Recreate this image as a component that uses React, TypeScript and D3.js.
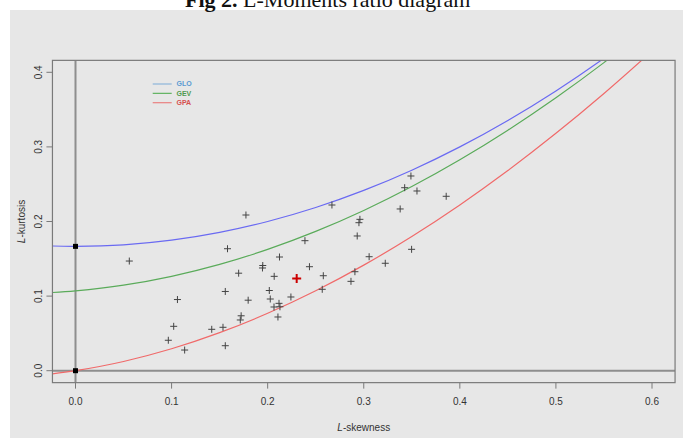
import React from "react";
import * as d3 from "d3";

const W = 683;
const H = 438;

// Observed sample L-moment ratios (tau3 = L-skewness, tau4 = L-kurtosis)
const sampleSkew = [0.056, 0.0966, 0.1022, 0.1061, 0.1136, 0.1418, 0.1535, 0.1559, 0.1559, 0.1582, 0.1698, 0.1715, 0.1724, 0.1774, 0.1797, 0.1949, 0.1946, 0.2017, 0.2027, 0.2068, 0.2066, 0.2118, 0.2128, 0.2107, 0.2123, 0.2242, 0.2388, 0.2435, 0.2568, 0.2579, 0.2669, 0.2867, 0.2908, 0.2932, 0.295, 0.296, 0.3056, 0.3224, 0.3379, 0.3426, 0.3491, 0.3498, 0.3554, 0.3858];
const sampleKurt = [0.147, 0.0408, 0.0595, 0.0954, 0.0277, 0.0555, 0.0582, 0.0335, 0.1062, 0.1635, 0.1307, 0.068, 0.0736, 0.2087, 0.0945, 0.141, 0.1377, 0.1075, 0.0961, 0.1265, 0.0854, 0.0903, 0.0857, 0.072, 0.1524, 0.0988, 0.1743, 0.1394, 0.1091, 0.1273, 0.2221, 0.1198, 0.1327, 0.1806, 0.1984, 0.2029, 0.1528, 0.144, 0.2168, 0.2453, 0.261, 0.1627, 0.2409, 0.2338];
const meanSkew = [0.2302];
const meanKurt = [0.1236];

// Theoretical curves
const curveSkew = [-0.024, 0, 0.05, 0.1, 0.15, 0.2, 0.25, 0.3, 0.35, 0.4, 0.45, 0.5, 0.55, 0.6, 0.624];
const gloKurt = [0.16715, 0.16667, 0.16875, 0.175, 0.18542, 0.2, 0.21875, 0.24167, 0.26875, 0.3, 0.33542, 0.375, 0.41875, 0.46667, 0.49114];
const gevKurt = [0.10484, 0.10701, 0.11467, 0.12652, 0.14251, 0.16259, 0.18671, 0.2148, 0.24683, 0.28271, 0.3224, 0.36585, 0.41299, 0.46378, 0.48919];
const gpaKurt = [-0.00424, 0, 0.01238, 0.02941, 0.05097, 0.07692, 0.10714, 0.14151, 0.17991, 0.22222, 0.26835, 0.31818, 0.37162, 0.42857, 0.45713];

const legendNames = ["GLO", "GEV", "GPA"];
const curveColors = ["#6a6af2", "#5aab5a", "#f06a6a"];
const legendLineColors = ["#8db6da", "#5fb35f", "#e98080"];
const legendTextColors = ["#5a9ad2", "#4f9a4f", "#d65050"];

const xTicks = [0, 0.1, 0.2, 0.3, 0.4, 0.5, 0.6];
const yTicks = [0, 0.1, 0.2, 0.3, 0.4];

export default function App() {
  const x = d3.scaleLinear().domain([0, 0.6]).range([75.5, 652]);
  const y = d3.scaleLinear().domain([0, 0.4]).range([370.7, 72.3]);
  const x0 = x(-0.024), x1 = x(0.624);
  const y0 = y(-0.016), y1 = y(0.416);

  const line = d3
    .line<[number, number]>()
    .x((d) => x(d[0]))
    .y((d) => y(d[1]))
    .curve(d3.curveCatmullRom);

  const curves = [gloKurt, gevKurt, gpaKurt].map((k) =>
    line(curveSkew.map((s, i) => [s, k[i]] as [number, number]))
  );

  const font = "'Liberation Sans', Arial, sans-serif";
  const plus = (cx: number, cy: number, r: number) =>
    `M${cx - r},${cy}H${cx + r}M${cx},${cy - r}V${cy + r}`;

  return (
    <svg width={W} height={H} style={{ position: "absolute", left: 0, top: 0 }}>
      <defs>
        <clipPath id="box">
          <rect x={x0} y={y1} width={x1 - x0} height={y0 - y1} />
        </clipPath>
      </defs>
      <rect x={0} y={0} width={W} height={H} fill="#ffffff" />
      <rect x={10} y={10} width={W - 10} height={H - 10} fill="#e7e7e7" />

      <text x={185} y={7} fontFamily="'Liberation Serif', 'Times New Roman', serif" fontSize={22} fill="#111">
        <tspan fontWeight="bold">Fig 2.</tspan>
        <tspan> L-Moments ratio diagram</tspan>
      </text>

      {/* reference lines */}
      <g clipPath="url(#box)">
        <line x1={x(0)} x2={x(0)} y1={y1} y2={y0} stroke="#8e8e8e" strokeWidth={2} />
        <line x1={x0} x2={x1} y1={y(0)} y2={y(0)} stroke="#8e8e8e" strokeWidth={2} />
        {curves.map((p, i) => (
          <path key={i} d={p || ""} fill="none" stroke={curveColors[i]} strokeWidth={1.2} />
        ))}
        {sampleSkew.map((s, i) => (
          <path key={i} d={plus(x(s), y(sampleKurt[i]), 3.5)} stroke="#444" strokeWidth={1} />
        ))}
        {meanSkew.map((s, i) => (
          <path key={i} d={plus(x(s), y(meanKurt[i]), 4.5)} stroke="#cc0000" strokeWidth={2} />
        ))}
        <rect x={x(0) - 2.5} y={y(1 / 6) - 2.5} width={5} height={5} fill="#000" />
        <rect x={x(0) - 2.5} y={y(0) - 2.5} width={5} height={5} fill="#000" />
      </g>

      {/* box */}
      <rect x={x0} y={y1} width={x1 - x0} height={y0 - y1} fill="none" stroke="#7a7a7a" strokeWidth={1.2} />

      {/* x axis */}
      {xTicks.map((t) => (
        <g key={t}>
          <line x1={x(t)} x2={x(t)} y1={y0} y2={y0 + 6} stroke="#7a7a7a" />
          <text x={x(t)} y={405} textAnchor="middle" fontFamily={font} fontSize={10} fill="#333">
            {t.toFixed(1)}
          </text>
        </g>
      ))}
      <text x={(x0 + x1) / 2} y={431} textAnchor="middle" fontFamily={font} fontSize={10} fill="#333">
        <tspan fontStyle="italic">L</tspan>-skewness
      </text>

      {/* y axis */}
      {yTicks.map((t) => (
        <g key={t}>
          <line x1={x0} x2={x0 - 6} y1={y(t)} y2={y(t)} stroke="#7a7a7a" />
          <text
            transform={`translate(41.5,${y(t)}) rotate(-90)`}
            textAnchor="middle"
            fontFamily={font}
            fontSize={10}
            fill="#333"
          >
            {t.toFixed(1)}
          </text>
        </g>
      ))}
      <text
        transform={`translate(25,${(y0 + y1) / 2}) rotate(-90)`}
        textAnchor="middle"
        fontFamily={font}
        fontSize={10}
        fill="#333"
      >
        <tspan fontStyle="italic">L</tspan>-kurtosis
      </text>

      {/* legend */}
      {legendNames.map((n, i) => (
        <g key={n}>
          <line x1={152.7} x2={171.7} y1={84 + i * 9.35} y2={84 + i * 9.35} stroke={legendLineColors[i]} strokeWidth={1.2} />
          <text x={176.5} y={84 + i * 9.35} dy="0.35em" fontFamily={font} fontSize={7} fontWeight="bold" fill={legendTextColors[i]}>
            {n}
          </text>
        </g>
      ))}
    </svg>
  );
}
